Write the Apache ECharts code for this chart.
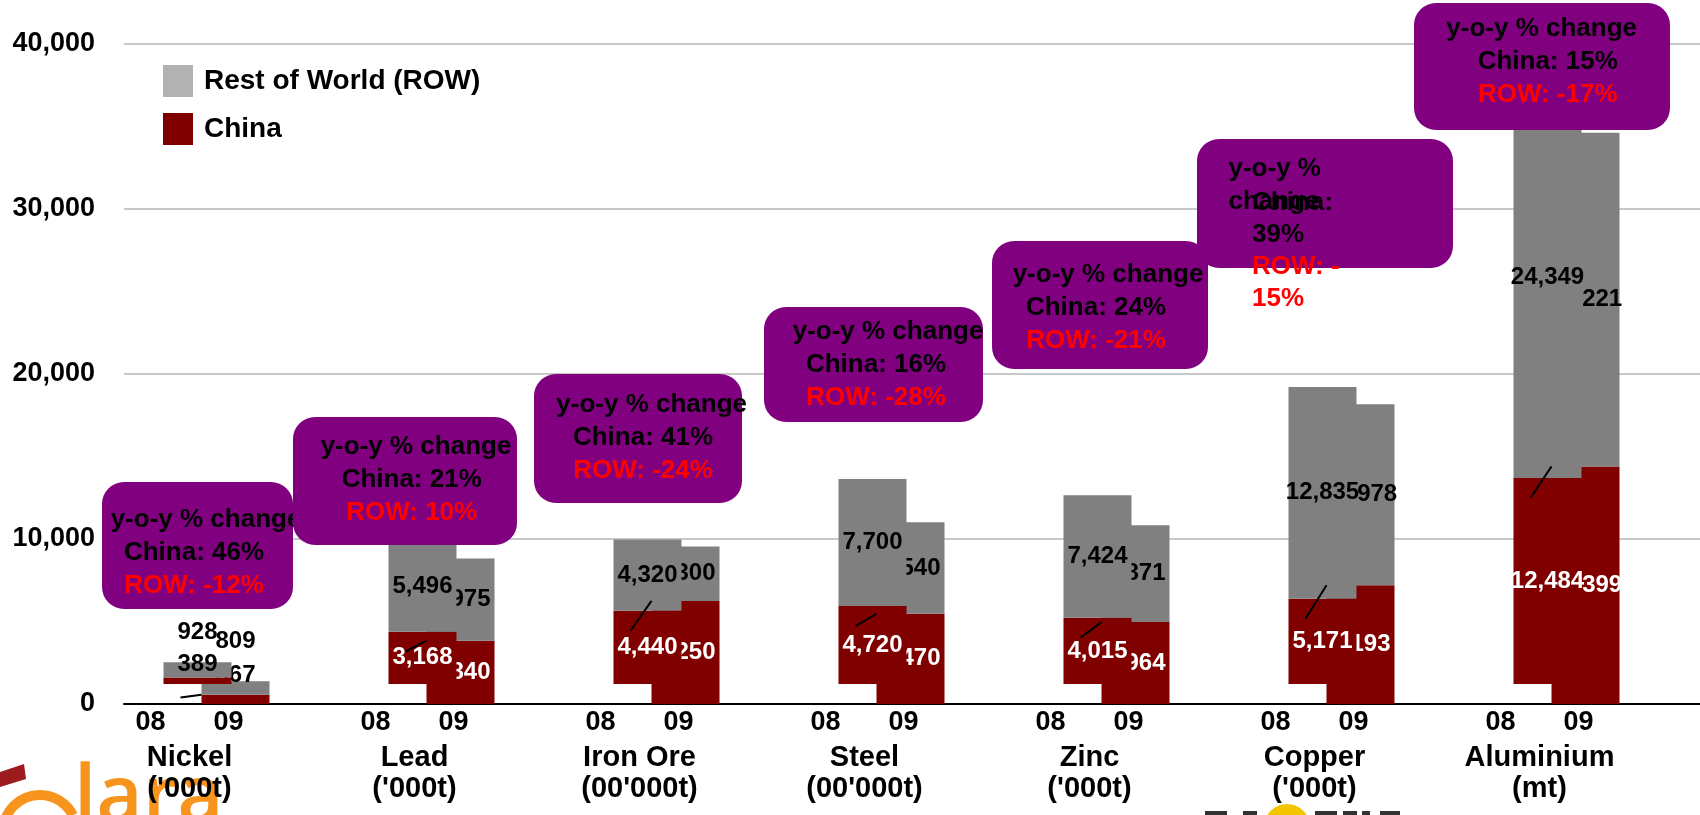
<!DOCTYPE html>
<html>
<head>
<meta charset="utf-8">
<script src="https://cdn.jsdelivr.net/npm/echarts@6/dist/echarts.min.js"></script>
<style>
  html, body { margin: 0; padding: 0; background: #ffffff; }
  #chart { width: 1700px; height: 815px; }
</style>
</head>
<body>
<div id="chart"></div>
<script>
// ---- data ----
const categories = ['Nickel', 'Lead', 'Iron Ore', 'Steel', 'Zinc', 'Copper', 'Aluminium'];
const units = ["('000t)", "('000t)", "(00'000t)", "(00'000t)", "('000t)", "('000t)", '(mt)'];
const years = ['08', '09'];
const china08 = [389, 3168, 4440, 4720, 4015, 5171, 12484];
const row08 = [928, 5496, 4320, 7700, 7424, 12835, 24349];
const china09 = [567, 3840, 6250, 5470, 4964, 7193, 14399];
const row09 = [809, 4975, 3300, 5540, 5871, 10978, 20221];
const chinaChange = ['46%', '21%', '41%', '16%', '24%', '39%', '15%'];
const rowChange = ['-12%', '10%', '-24%', '-28%', '-21%', '-15%', '-17%'];
const yTicks = [0, 10000, 20000, 30000, 40000];

// ---- styling / layout ----
const FONT = "'Liberation Sans', Arial, Helvetica, sans-serif";
const GRAY = '#808080';
const DARK_RED = '#800000';
const PURPLE = '#800080';
const ROW_NAME = 'Rest of World (ROW)';
const CHINA_NAME = 'China';
const BAR_W = 68;          // width of each year's bar
const BAR_OVERLAP = 30;    // the 09 bar overlaps the 08 bar by this many px
const LIFT_08 = 1212;      // 2008 stacks float slightly above the axis
const LEADER_RUN = 21;     // horizontal run of the small leader strokes

// Nickel segments are too thin for inside labels, so they are nudged up.
const thinLabelShift = { c08: -16.5, r08: -38, c09: -24, r09: -46.5 };

// Callout boxes: anchor value (box centre), x offset from group centre,
// box width, top/bottom padding, text shift, and first-line shift.
const calloutLayout = [
  { at: 9606,  dx: -19,   w: 191, pt: 21.5, pb: 6.5,  tdx: -3.5, hdx: 12 },
  { at: 13515, dx: -36.5, w: 224, pt: 13.5, pb: 15.5, tdx: 6.7,  hdx: 4.3 },
  { at: 16091, dx: -28.5, w: 208, pt: 14,   pb: 16,   tdx: 5,    hdx: 8.7 },
  { at: 20576, dx: -18,   w: 219, pt: 8,    pb: 8,    tdx: 2.5,  hdx: 12 },
  { at: 24182, dx: -16.5, w: 216, pt: 17.5, pb: 11.5, tdx: -4,   hdx: 12 },
  { at: 30333, dx: -16.5, w: 256, pt: 13.5, pb: 49.5, wrap: true, pl: 31.5, at2: 27455, dx2: -39.5 },
  { at: 38636, dx: -24.5, w: 256, pt: 9.5,  pb: 18.5, tdx: 5.7,  hdx: -6 }
];

const fmt = v => String(v).replace(/\B(?=(\d{3})+(?!\d))/g, ',');

function barSeries(name, values, yAxisIndex, stack, color, labelColor, z, key) {
  return {
    type: 'bar',
    name: name,
    xAxisIndex: 1,
    yAxisIndex: yAxisIndex,
    stack: stack,
    barWidth: BAR_W,
    barGap: (-BAR_OVERLAP / BAR_W * 100).toFixed(1) + '%',
    z: z,
    silent: true,
    itemStyle: { color: color },
    label: {
      show: true,
      position: 'inside',
      color: labelColor,
      fontSize: 24,
      fontWeight: 'bold',
      fontFamily: FONT,
      formatter: p => fmt(p.value)
    },
    data: values.map((v, i) => i === 0
      ? { value: v, label: { offset: [0, thinLabelShift[key]], color: '#000' } }
      : v)
  };
}

function boxRich(headPad) {
  const base = { fontSize: 26, fontWeight: 'bold', fontFamily: FONT, lineHeight: 33, align: 'center' };
  return {
    h: Object.assign({}, base, { color: '#000', padding: headPad }),
    c: Object.assign({}, base, { color: '#000' }),
    r: Object.assign({}, base, { color: '#FF0000' })
  };
}

const calloutData = categories.map((c, i) => {
  const L = calloutLayout[i];
  if (L.wrap) {
    const base = { fontSize: 26, fontWeight: 'bold', fontFamily: FONT, lineHeight: 33, align: 'left', color: '#000' };
    return {
      value: [i, L.at],
      label: {
        show: true, position: 'inside', offset: [L.dx, 0], opacity: 1,
        backgroundColor: PURPLE, borderRadius: 22,
        width: L.w - L.pl - 10,
        padding: [L.pt, 10, L.pb, L.pl],
        formatter: '{h|y-o-y %}\n{h|change}',
        rich: { h: base }
      }
    };
  }
  const headPad = L.hdx >= 0 ? [0, 0, 0, 2 * L.hdx] : [0, -2 * L.hdx, 0, 0];
  return {
    value: [i, L.at],
    label: {
      show: true, position: 'inside', offset: [L.dx, 0], opacity: 1,
      backgroundColor: PURPLE, borderRadius: 22,
      width: L.w - 40,
      padding: [L.pt, 20 - L.tdx, L.pb, 20 + L.tdx],
      formatter: '{h|y-o-y % change}\n{c|China: ' + chinaChange[i] + '}\n{r|ROW: ' + rowChange[i] + '}',
      rich: boxRich(headPad)
    }
  };
});

// Text that spills out of the narrow (wrapped) callout
const spillData = [];
calloutLayout.forEach((L, i) => {
  if (!L.wrap) return;
  const base = { fontSize: 26, fontWeight: 'bold', fontFamily: FONT, lineHeight: 32, align: 'left' };
  const sign = rowChange[i].charAt(0);
  const rest = rowChange[i].slice(1);
  spillData.push({
    value: [i, L.at2],
    label: {
      show: true, position: 'inside', offset: [L.dx2, 0], opacity: 1,
      width: 100,
      formatter: '{c|China:}\n{c|' + chinaChange[i] + '}\n{r|ROW: ' + sign + '}\n{r|' + rest + '}',
      rich: {
        c: Object.assign({}, base, { color: '#000' }),
        r: Object.assign({}, base, { color: '#FF0000' })
      }
    }
  });
});

const chart = echarts.init(document.getElementById('chart'), null, { renderer: 'canvas' });

const hiddenPoint = { color: 'rgba(0,0,0,0)', opacity: 1 };

const option = {
  animation: false,
  backgroundColor: '#ffffff',
  textStyle: { fontFamily: FONT },
  legend: {
    orient: 'vertical',
    left: 158,
    top: 60,
    itemWidth: 30,
    itemHeight: 32,
    itemGap: 16,
    icon: 'rect',
    selectedMode: false,
    textStyle: { fontSize: 28, fontWeight: 'bold', color: '#000', fontFamily: FONT, padding: [0, 0, 0, 6] },
    data: [
      { name: ROW_NAME, itemStyle: { color: '#B2B2B2' } },
      { name: CHINA_NAME, itemStyle: { color: DARK_RED } }
    ]
  },
  grid: [
    { left: 124, right: 0, top: 44, bottom: 111 },
    { left: 104, right: 21, top: 44, bottom: 111 }
  ],
  xAxis: [
    {
      gridIndex: 0, type: 'category', data: categories,
      axisLine: { lineStyle: { color: '#000', width: 2 } },
      axisTick: { show: false }, axisLabel: { show: false }, splitLine: { show: false }
    },
    {
      gridIndex: 1, type: 'category', data: categories,
      axisLine: { show: false }, axisTick: { show: false }, splitLine: { show: false },
      axisLabel: {
        interval: 0,
        margin: 0,
        padding: [0, 54, 0, 0],
        formatter: (v, i) => '{yr|' + years[0] + '}{yr|' + years[1] + '}\n{nm|' + v + '}\n{nm|' + units[i] + '}',
        rich: {
          yr: { fontSize: 27, fontWeight: 'bold', fontFamily: FONT, color: '#000', width: 78, align: 'center', lineHeight: 38 },
          nm: { fontSize: 29, fontWeight: 'bold', fontFamily: FONT, color: '#000', align: 'center', lineHeight: 31 }
        }
      }
    }
  ],
  yAxis: [
    {
      gridIndex: 0, type: 'value',
      min: yTicks[0], max: yTicks[yTicks.length - 1], interval: yTicks[1] - yTicks[0],
      axisLine: { show: false }, axisTick: { show: false },
      splitLine: { lineStyle: { color: '#C8C8C8', width: 2 } },
      axisLabel: { fontSize: 27, fontWeight: 'bold', color: '#000', fontFamily: FONT, margin: 29, formatter: v => fmt(v) }
    },
    { gridIndex: 1, type: 'value', show: false, min: yTicks[0], max: yTicks[yTicks.length - 1] },
    { gridIndex: 1, type: 'value', show: false, min: yTicks[0] - LIFT_08, max: yTicks[yTicks.length - 1] - LIFT_08 }
  ],
  series: [
    barSeries(CHINA_NAME, china08, 2, 'y08', DARK_RED, '#fff', 3, 'c08'),
    barSeries(ROW_NAME, row08, 2, 'y08', GRAY, '#000', 3, 'r08'),
    barSeries(CHINA_NAME, china09, 1, 'y09', DARK_RED, '#fff', 2, 'c09'),
    barSeries(ROW_NAME, row09, 1, 'y09', GRAY, '#000', 2, 'r09'),
    {
      // short leader strokes from the 09 China top back to the 08 China level
      type: 'custom',
      name: 'leaders',
      xAxisIndex: 1, yAxisIndex: 1,
      z: 4, silent: true,
      encode: { x: 0, y: [1, 2] },
      renderItem: (params, api) => {
        const hi = api.coord([api.value(0), api.value(1)]);
        const lo = api.coord([api.value(0), api.value(2)]);
        const x09 = hi[0] - BAR_OVERLAP / 2;
        return {
          type: 'line',
          shape: { x1: x09, y1: hi[1], x2: x09 - LEADER_RUN, y2: lo[1] },
          style: { stroke: '#000', lineWidth: 2 }
        };
      },
      data: categories.map((c, i) => [i, china09[i], china08[i]])
    },
    {
      type: 'scatter',
      name: 'callouts',
      xAxisIndex: 1, yAxisIndex: 1,
      z: 5, silent: true,
      symbolSize: 1,
      itemStyle: hiddenPoint,
      emphasis: { disabled: true },
      data: calloutData
    },
    {
      type: 'scatter',
      name: 'callout-spill',
      xAxisIndex: 1, yAxisIndex: 1,
      z: 6, silent: true,
      symbolSize: 1,
      itemStyle: hiddenPoint,
      emphasis: { disabled: true },
      data: spillData
    }
  ],
  graphic: [
    // corner logo (cut off by the page edge)
    {
      type: 'polygon', silent: true,
      shape: { points: [[0, 772], [24, 764], [26, 779], [0, 787]] },
      style: { fill: '#9B1B1F' }
    },
    {
      type: 'arc', silent: true,
      shape: { cx: 40, cy: 832, r: 37, startAngle: Math.PI, endAngle: Math.PI * 1.85 },
      style: { stroke: '#F7941D', lineWidth: 10, fill: 'none' }
    },
    {
      type: 'text', silent: true, left: 74, top: 759,
      style: { text: 'lara', fill: '#F7941D', font: '600 80px "Open Sans", sans-serif' }
    },
    // second logo at the bottom edge, only its top is visible
    {
      type: 'group', silent: true,
      children: [
        { type: 'circle', shape: { cx: 1287, cy: 827, r: 23 }, style: { fill: '#F2C500' } },
        { type: 'rect', shape: { x: 1205, y: 811, width: 22, height: 6 }, style: { fill: '#333' } },
        { type: 'rect', shape: { x: 1243, y: 811, width: 14, height: 6 }, style: { fill: '#333' } },
        { type: 'rect', shape: { x: 1315, y: 811, width: 22, height: 6 }, style: { fill: '#333' } },
        { type: 'rect', shape: { x: 1343, y: 811, width: 14, height: 6 }, style: { fill: '#333' } },
        { type: 'rect', shape: { x: 1362, y: 811, width: 8, height: 6 }, style: { fill: '#333' } },
        { type: 'rect', shape: { x: 1380, y: 811, width: 20, height: 6 }, style: { fill: '#333' } }
      ]
    }
  ]
};

chart.setOption(option);
</script>
</body>
</html>
